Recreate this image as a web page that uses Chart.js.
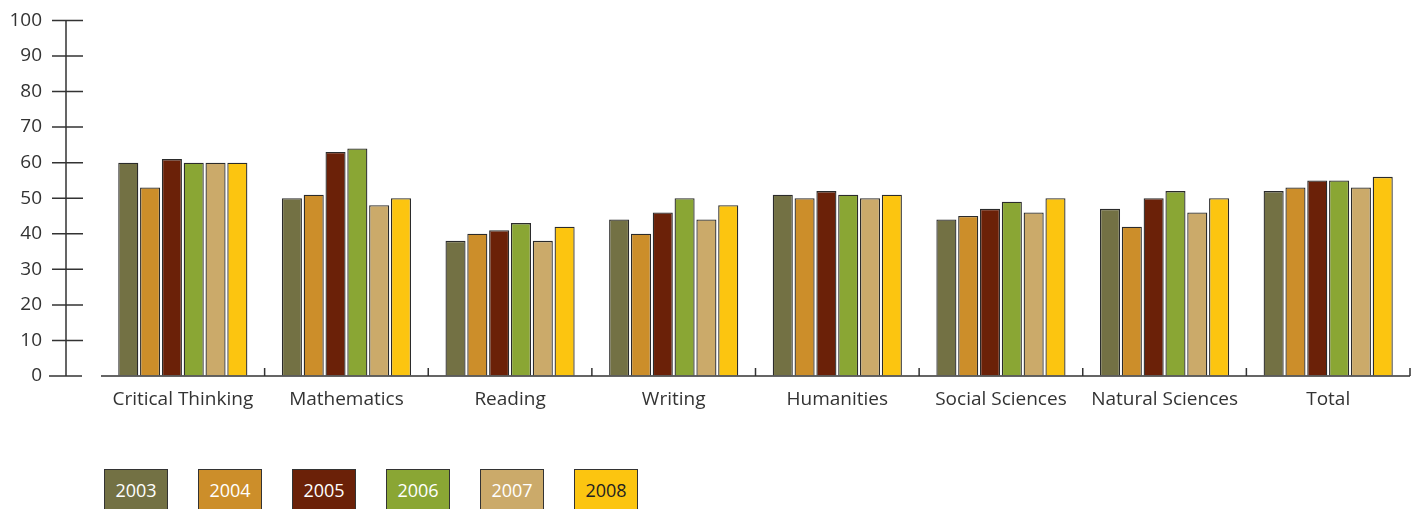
<!DOCTYPE html>
<html>
<head>
<meta charset="utf-8">
<script src="https://cdn.jsdelivr.net/npm/chart.js@4.4.1/dist/chart.umd.min.js"></script>
<style>
  body { margin: 0; background: #fff; width: 1412px; height: 509px; overflow: hidden; position: relative; font-family: "Open Sans", sans-serif; }
  #wrap { position: absolute; left: 0; top: 0; width: 1412px; height: 420px; }
  #legend { position: absolute; left: 0; top: 469px; }
  .key { position: absolute; top: 0; width: 62px; height: 40px; border: 1px solid #333; box-sizing: content-box;
         color: #fff; font-size: 18px; line-height: 40px; text-align: center; }
</style>
</head>
<body>
<div id="wrap"><canvas id="chart" width="1412" height="420"></canvas></div>
<div id="legend"></div>
<script>
// Categories and yearly scores
const categories = ['Critical Thinking', 'Mathematics', 'Reading', 'Writing', 'Humanities', 'Social Sciences', 'Natural Sciences', 'Total'];
const years = ['2003', '2004', '2005', '2006', '2007', '2008'];
const y2003 = [60, 50, 38, 44, 51, 44, 47, 52];
const y2004 = [53, 51, 40, 40, 50, 45, 42, 53];
const y2005 = [61, 63, 41, 46, 52, 47, 50, 55];
const y2006 = [60, 64, 43, 50, 51, 49, 52, 55];
const y2007 = [60, 48, 38, 44, 50, 46, 46, 53];
const y2008 = [60, 50, 42, 48, 51, 50, 50, 56];
const yTicks = [0, 10, 20, 30, 40, 50, 60, 70, 80, 90, 100];

const colors = ['#737144', '#cc8e2a', '#6b2108', '#8aa634', '#cbaa6a', '#fcc510'];
const series = [y2003, y2004, y2005, y2006, y2007, y2008];

// Axis lines and cross ticks drawn from the scales
const axisPlugin = {
    id: 'axisPlugin',
    afterDraw(chart) {
        const ctx = chart.ctx;
        const ys = chart.scales.y;
        const xs = chart.scales.x;
        const axisX = 66;
        ctx.save();
        ctx.strokeStyle = '#333';
        ctx.lineWidth = 1.5;
        ctx.beginPath();
        ctx.moveTo(axisX, ys.getPixelForValue(100));
        ctx.lineTo(axisX, ys.getPixelForValue(0));
        yTicks.forEach(v => {
            const py = ys.getPixelForValue(v);
            ctx.moveTo(v === 0 ? 49 : 52, py);
            ctx.lineTo(v === 0 ? 82 : 83, py);
        });
        ctx.stroke();

        // x axis baseline with small upward ticks between categories
        const base = ys.getPixelForValue(0);
        const step = xs.getPixelForValue(1) - xs.getPixelForValue(0);
        ctx.beginPath();
        ctx.moveTo(chart.chartArea.left, base);
        ctx.lineTo(chart.chartArea.right, base);
        for (let i = 1; i <= categories.length; i++) {
            const px = xs.getPixelForValue(i) - step / 2;
            ctx.moveTo(px, base);
            ctx.lineTo(px, base - 8);
        }
        ctx.stroke();
        ctx.restore();
    }
};

new Chart(document.getElementById('chart').getContext('2d'), {
    type: 'bar',
    data: {
        labels: categories,
        datasets: years.map((yr, i) => ({
            label: yr,
            data: series[i],
            backgroundColor: colors[i],
            borderColor: '#2b2b2b',
            borderWidth: 1.3,
            categoryPercentage: 0.8,
            barPercentage: 0.92
        }))
    },
    options: {
        responsive: false,
        animation: false,
        layout: { padding: { top: 19, right: 2, left: 0, bottom: 0 } },
        plugins: { legend: { display: false }, tooltip: { enabled: false } },
        scales: {
            x: {
                grid: { display: false, drawTicks: false },
                border: { display: false },
                ticks: { color: '#333', font: { family: 'Open Sans', size: 19 }, padding: 12, maxRotation: 0, autoSkip: false },
                afterFit(scale) { scale.height = 44; }
            },
            y: {
                min: 0,
                max: 100,
                grid: { display: true, drawOnChartArea: false, color: 'rgba(0,0,0,0)', tickLength: 50 },
                border: { display: false },
                ticks: { stepSize: 10, color: '#333', font: { family: 'Open Sans', size: 19 }, padding: 9 },
                afterFit(scale) { scale.width = 101; }
            }
        }
    },
    plugins: [axisPlugin]
});

// Legend: text inside coloured boxes
const legend = document.getElementById('legend');
years.forEach((yr, i) => {
    const d = document.createElement('div');
    d.className = 'key';
    d.style.left = (104 + i * 94) + 'px';
    d.style.background = colors[i];
    if (i === 5) d.style.color = '#222';
    d.textContent = yr;
    legend.appendChild(d);
});
</script>
</body>
</html>
